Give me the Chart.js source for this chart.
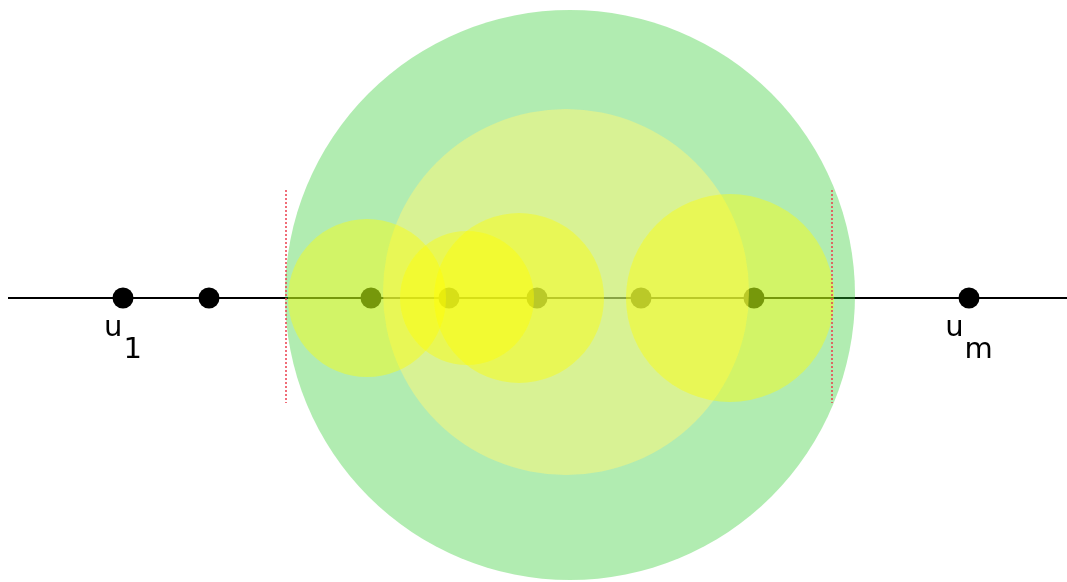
<!DOCTYPE html>
<html>
<head>
<meta charset="utf-8">
<script src="https://cdn.jsdelivr.net/npm/chart.js@4/dist/chart.umd.min.js"></script>
<style>
  body { margin: 0; background: #fff; }
</style>
</head>
<body>
<canvas id="plot" width="1067" height="582"></canvas>
<script>
// points on the line
const pointX = [123, 209, 371, 449, 537, 641, 754, 969];
const lineX = [8, 1067];

// labels: [point index, main letter, subscript]
const labelPoint = [0, 7];
const labelMain = ['u', 'u'];
const labelSub = ['1', 'm'];

// circles (center x, center y, radius) in data units
const outerCircle = [570, 3, 285];
const innerCircle = [566, 6, 183];
const smallX = [367, 467, 519, 730];
const smallY = [0, 0, 0, 0];
const smallR = [79, 67, 85, 104];

// red dotted bounds
const boundX = [286, 832];
const boundY = [108, -105];

const radiusFromScale = (r) => (ctx) => {
  const xs = ctx.chart.scales.x;
  return Math.abs(xs.getPixelForValue(r) - xs.getPixelForValue(0));
};

const circleSet = (c, color, order) => ({
  type: 'scatter',
  data: [{ x: c[0], y: c[1] }],
  pointRadius: radiusFromScale(c[2]),
  backgroundColor: color,
  borderWidth: 0,
  order: order,
  clip: false,
});

const datasets = [];

boundX.forEach((bx) => {
  datasets.push({
    type: 'line',
    data: [{ x: bx, y: boundY[0] }, { x: bx, y: boundY[1] }],
    borderColor: 'rgba(235,60,75,0.75)',
    borderWidth: 2,
    borderDash: [2, 2],
    pointRadius: 0,
    order: 0,
  });
});

smallX.forEach((sx, i) => {
  datasets.push({
    type: 'scatter',
    data: [{ x: sx, y: smallY[i] }],
    pointRadius: radiusFromScale(smallR[i]),
    backgroundColor: 'rgba(255,255,0,0.42)',
    borderWidth: 0,
    order: 1,
    clip: false,
  });
});

datasets.push(circleSet(innerCircle, 'rgba(255,248,119,0.5)', 2));
datasets.push(circleSet(outerCircle, 'rgba(50,205,50,0.38)', 3));

datasets.push({
  type: 'scatter',
  data: pointX.map((x) => ({ x: x, y: 0 })),
  pointRadius: 10.5,
  backgroundColor: '#000',
  borderWidth: 0,
  order: 4,
});

datasets.push({
  type: 'line',
  data: lineX.map((x) => ({ x: x, y: 0 })),
  borderColor: '#000',
  borderWidth: 2,
  pointRadius: 0,
  order: 5,
});

// label "u" with subscript, centred under its point
const labelPlugin = {
  id: 'labels',
  afterDatasetsDraw(chart) {
    const ctx = chart.ctx;
    const xs = chart.scales.x;
    const ys = chart.scales.y;
    ctx.save();
    ctx.fillStyle = '#000';
    ctx.font = '29px "DejaVu Sans"';
    ctx.textBaseline = 'alphabetic';
    ctx.textAlign = 'left';
    labelPoint.forEach((p, i) => {
      const px = xs.getPixelForValue(pointX[p]);
      const py = ys.getPixelForValue(0);
      const wMain = ctx.measureText(labelMain[i]).width;
      const wSub = ctx.measureText(labelSub[i]).width;
      const gap = 1;
      const x0 = px - (wMain + gap + wSub) / 2;
      ctx.fillText(labelMain[i], x0, py + 38);
      ctx.fillText(labelSub[i], x0 + wMain + gap, py + 60);
    });
    ctx.restore();
  },
};

new Chart(document.getElementById('plot'), {
  type: 'scatter',
  data: { datasets: datasets },
  options: {
    responsive: false,
    animation: false,
    devicePixelRatio: 1,
    events: [],
    layout: { padding: 0, autoPadding: false },
    plugins: { legend: { display: false }, tooltip: { enabled: false } },
    scales: {
      x: { type: 'linear', min: 0, max: 1067, display: false },
      y: { type: 'linear', min: -284, max: 298, display: false },
    },
  },
  plugins: [labelPlugin],
});
</script>
</body>
</html>
